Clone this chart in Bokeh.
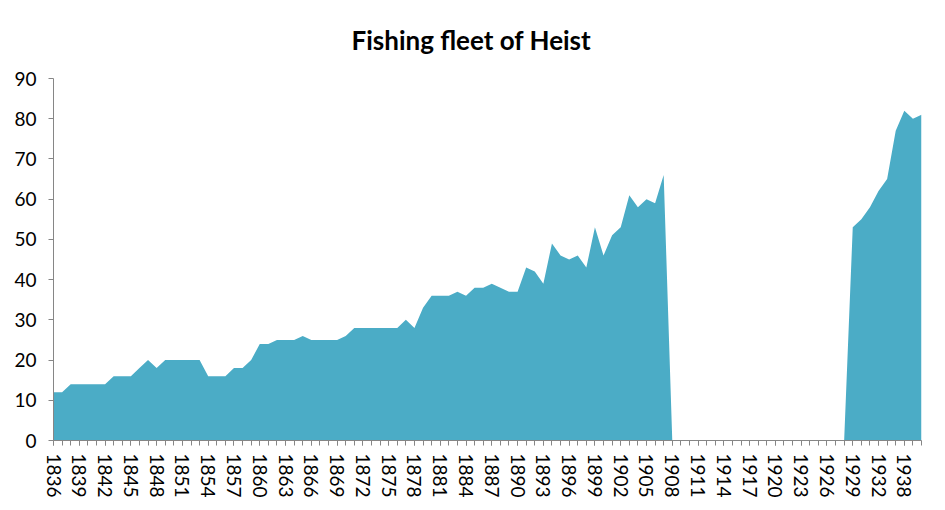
from bokeh.plotting import figure
from bokeh.models import Range1d, FixedTicker
from bokeh.embed import file_html
from bokeh.resources import INLINE

# ---- data ----
years = list(range(1836, 1933)) + [1936, 1937, 1938, 1939, 1940]
boats = [12, 12, 14, 14, 14, 14, 14, 16, 16, 16,
         18, 20, 18, 20, 20, 20, 20, 20, 16, 16,
         16, 18, 18, 20, 24, 24, 25, 25, 25, 26,
         25, 25, 25, 25, 26, 28, 28, 28, 28, 28,
         28, 30, 28, 33, 36, 36, 36, 37, 36, 38,
         38, 39, 38, 37, 37, 43, 42, 39, 49, 46,
         45, 46, 43, 53, 46, 51, 53, 61, 58, 60,
         59, 66,
         0, 0, 0, 0, 0, 0, 0, 0, 0, 0, 0, 0, 0, 0, 0, 0, 0, 0, 0, 0, 0,
         53, 55, 58, 62, 65, 77, 82, 80, 81]
y_ticks = [0, 10, 20, 30, 40, 50, 60, 70, 80, 90]
title_text = "Fishing fleet of Heist"

# category positions (one slot per year in the table)
xs = list(range(len(years)))
label_idx = xs[::3]

FONT = "Lato"
AXIS_COL = "#868686"

p = figure(width=937, height=502, output_backend="svg", toolbar_location=None,
           x_range=Range1d(0, len(years) - 1), y_range=Range1d(0, 90),
           min_border_left=53, min_border_right=16, min_border_top=78,
           min_border_bottom=62)

p.varea(x=xs, y1=[0] * len(xs), y2=boats, fill_color="#4BACC6", fill_alpha=1.0)

p.title.text = title_text
p.title.align = "left"
p.title.vertical_align = "top"
p.title.text_font = FONT
p.title.text_font_size = "26px"
p.title.text_font_style = "bold"
p.title.text_color = "black"
p.title.offset = 298
p.title.standoff = 41

p.outline_line_color = None
p.xgrid.visible = False
p.ygrid.visible = False
p.background_fill_color = "white"
p.border_fill_color = "white"

# x axis
xa = p.xaxis[0]
xa.ticker = FixedTicker(ticks=label_idx, minor_ticks=xs)
xa.major_label_overrides = {i: str(years[i]) for i in label_idx}
xa.major_label_orientation = "vertical"
xa.major_label_text_font = FONT
xa.major_label_text_font_size = "19px"
xa.major_label_text_color = "black"
xa.major_label_standoff = 8
xa.axis_line_color = AXIS_COL
xa.major_tick_line_color = AXIS_COL
xa.minor_tick_line_color = AXIS_COL
xa.major_tick_in = 0
xa.major_tick_out = 5
xa.minor_tick_in = 0
xa.minor_tick_out = 5

# y axis
ya = p.yaxis[0]
ya.ticker = FixedTicker(ticks=y_ticks)
ya.major_label_text_font = FONT
ya.major_label_text_font_size = "19px"
ya.major_label_text_color = "black"
ya.major_label_standoff = 12
ya.axis_line_color = AXIS_COL
ya.major_tick_line_color = AXIS_COL
ya.minor_tick_line_color = None
ya.major_tick_in = 0
ya.major_tick_out = 5

open("out.html", "w").write(file_html(p, INLINE))
